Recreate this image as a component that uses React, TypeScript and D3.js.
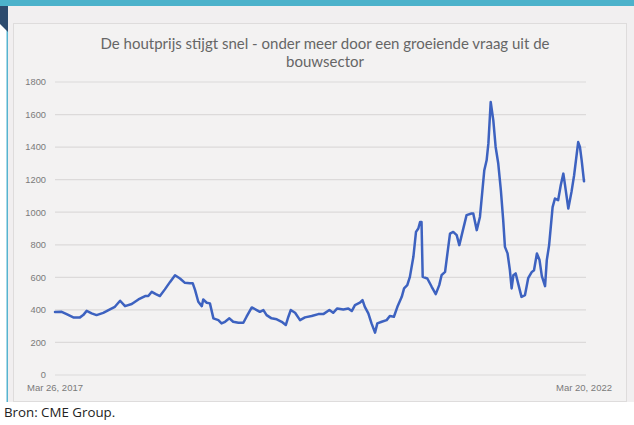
import React from "react";
import * as d3 from "d3";

const titleLines = [
  "De houtprijs stijgt snel - onder meer door een groeiende vraag uit de",
  "bouwsector",
];
const yTicks = [0, 200, 400, 600, 800, 1000, 1200, 1400, 1600, 1800];
const xTickLabels = ["Mar 26, 2017", "Mar 20, 2022"];
const xTickDates = ["2017-03-26", "2022-03-20"];
const source = "Bron: CME Group.";

const dates = [
  "2017-03-26","2017-04-18","2017-05-05","2017-05-28","2017-06-20","2017-07-01","2017-07-13","2017-07-30",
  "2017-08-16","2017-09-08","2017-10-01","2017-10-18","2017-11-05","2017-11-22","2017-12-15","2018-01-07",
  "2018-01-30","2018-02-10","2018-02-22","2018-03-08","2018-03-22","2018-04-08","2018-04-26","2018-05-13",
  "2018-05-30","2018-06-16","2018-07-03","2018-07-13","2018-07-21","2018-08-01","2018-08-13","2018-08-18",
  "2018-08-30","2018-09-10","2018-09-22","2018-10-09","2018-10-20","2018-11-01","2018-11-16","2018-11-29",
  "2018-12-17","2019-01-03","2019-01-14","2019-02-01","2019-02-18","2019-03-01","2019-03-13","2019-03-24",
  "2019-04-10","2019-04-28","2019-05-15","2019-05-29","2019-06-07","2019-06-15","2019-06-30","2019-07-17",
  "2019-08-03","2019-08-26","2019-09-18","2019-10-05","2019-10-26","2019-11-08","2019-11-22","2019-12-13",
  "2019-12-30","2020-01-11","2020-01-22","2020-02-08","2020-02-17","2020-02-25","2020-03-08","2020-03-19",
  "2020-03-31","2020-04-08","2020-04-23","2020-05-10","2020-05-21","2020-06-04","2020-06-16","2020-07-01",
  "2020-07-09","2020-07-20","2020-07-29","2020-08-10","2020-08-19","2020-08-27","2020-09-02","2020-09-07",
  "2020-09-11","2020-09-27","2020-10-12","2020-10-26","2020-11-07","2020-11-15","2020-11-27","2020-12-14",
  "2020-12-25","2021-01-06","2021-01-15","2021-01-26","2021-02-09","2021-02-26","2021-03-04","2021-03-16",
  "2021-03-27","2021-04-11","2021-04-19","2021-04-25","2021-05-03","2021-05-12","2021-05-20","2021-05-29",
  "2021-06-07","2021-06-15","2021-06-21","2021-06-30","2021-07-08","2021-07-14","2021-07-20","2021-07-28",
  "2021-08-06","2021-08-17","2021-08-29","2021-09-09","2021-09-21","2021-09-29","2021-10-09","2021-10-18",
  "2021-10-26","2021-11-06","2021-11-12","2021-11-20","2021-12-02","2021-12-10","2021-12-21","2021-12-30",
  "2022-01-08","2022-01-13","2022-01-25","2022-02-05","2022-02-14","2022-02-28","2022-03-06","2022-03-12",
  "2022-03-20",
];
const prices = [
  387,388,374,354,354,368,394,379,
  368,382,403,419,456,423,436,464,
  485,485,511,497,485,526,572,613,
  593,566,563,563,521,450,423,464,
  444,440,348,337,317,327,348,327,
  321,321,358,415,399,388,399,368,
  348,342,327,307,358,399,382,337,
  354,362,374,374,399,382,409,403,
  409,393,429,444,460,419,379,317,
  260,317,327,337,362,358,419,480,
  532,552,603,726,879,900,940,940,
  603,593,542,497,552,613,634,869,
  879,859,798,879,982,992,992,890,
  971,1258,1319,1421,1677,1564,1401,1299,
  1135,951,787,747,644,532,613,624,
  558,480,491,595,632,644,747,706,
  607,546,706,798,1031,1084,1074,1166,
  1237,1176,1023,1125,1227,1431,1401,1319,
  1190,
];

const W = 634;
const H = 425;
const plot = { left: 55, right: 584, top: 82, bottom: 375 };

export default function App() {
  const parse = d3.timeParse("%Y-%m-%d");
  const data = dates.map((d, i) => ({ date: parse(d) as Date, value: prices[i] }));
  const x = d3
    .scaleTime()
    .domain([parse(xTickDates[0]) as Date, parse(xTickDates[1]) as Date])
    .range([plot.left, plot.right]);
  const y = d3.scaleLinear().domain([0, 1800]).range([plot.bottom, plot.top]);
  const line = d3
    .line<{ date: Date; value: number }>()
    .x((d) => x(d.date))
    .y((d) => y(d.value))
    .curve(d3.curveLinear);

  return (
    <svg
      width={W}
      height={H}
      viewBox={`0 0 ${W} ${H}`}
      style={{ position: "absolute", left: 0, top: 0, display: "block" }}
    >
      <rect x={0} y={0} width={W} height={H} fill="#ffffff" />
      <rect x={8} y={5} width={W - 8} height={397} fill="#f1eff0" />
      <rect x={13.5} y={23.5} width={613} height={378} fill="#f3f2f2" stroke="#dedcdc" strokeWidth={1} />
      <rect x={0} y={0} width={W} height={6} fill="#4cb2cb" />
      <rect x={6.5} y={6} width={1.5} height={396} fill="#56b4d0" />
      <polygon points="0,6 8,6 8,32 0,24" fill="#2d4b6e" />

      {titleLines.map((t, i) => (
        <text
          key={i}
          x={325}
          y={49 + i * 18}
          textAnchor="middle"
          fontFamily="Lato, 'Liberation Sans', sans-serif"
          fontSize={15}
          fill="#666666"
        >
          {t}
        </text>
      ))}

      {yTicks.map((t) => (
        <g key={t}>
          <line
            x1={plot.left}
            x2={plot.right + 2}
            y1={y(t)}
            y2={y(t)}
            stroke="#dcdada"
            strokeWidth={1.2}
          />
          <text
            x={46}
            y={y(t) + 3.3}
            textAnchor="end"
            fontFamily="'Liberation Sans', sans-serif"
            fontSize={9.3}
            fill="#7a7a7a"
          >
            {t}
          </text>
        </g>
      ))}

      {xTickLabels.map((lab, i) => (
        <text
          key={lab}
          x={x(parse(xTickDates[i]) as Date)}
          y={391}
          textAnchor="middle"
          fontFamily="'Liberation Sans', sans-serif"
          fontSize={9.5}
          fill="#7a7a7a"
        >
          {lab}
        </text>
      ))}

      <path
        d={line(data) || ""}
        fill="none"
        stroke="#3d62c0"
        strokeWidth={2.5}
        strokeLinejoin="round"
        strokeLinecap="round"
      />

      <text
        x={4}
        y={417}
        fontFamily="'Open Sans', 'Liberation Sans', sans-serif"
        fontSize={13.3}
        fill="#222222"
      >
        {source}
      </text>
    </svg>
  );
}
